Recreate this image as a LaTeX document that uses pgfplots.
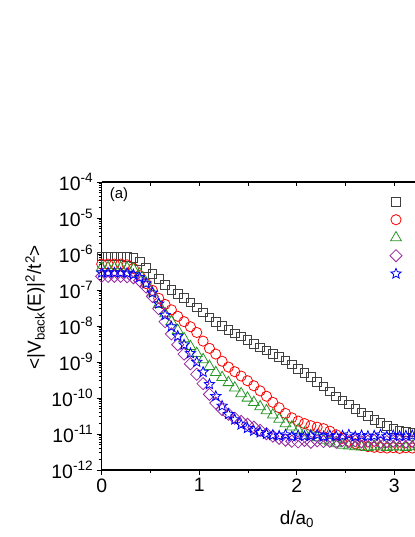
\documentclass[border=0pt]{standalone}
\usepackage{fontspec}
\setmainfont{Liberation Sans}
\usepackage{pgfplots}
\usepackage{pgfplotstable}
\pgfplotsset{compat=1.18}
\usetikzlibrary{plotmarks}

% open five-pointed star
\pgfdeclareplotmark{ostar}{%
  \pgfpathmoveto{\pgfpointpolar{90}{\pgfplotmarksize}}%
  \pgfpathlineto{\pgfpointpolar{126}{0.45\pgfplotmarksize}}%
  \pgfpathlineto{\pgfpointpolar{162}{\pgfplotmarksize}}%
  \pgfpathlineto{\pgfpointpolar{198}{0.45\pgfplotmarksize}}%
  \pgfpathlineto{\pgfpointpolar{234}{\pgfplotmarksize}}%
  \pgfpathlineto{\pgfpointpolar{270}{0.45\pgfplotmarksize}}%
  \pgfpathlineto{\pgfpointpolar{306}{\pgfplotmarksize}}%
  \pgfpathlineto{\pgfpointpolar{342}{0.45\pgfplotmarksize}}%
  \pgfpathlineto{\pgfpointpolar{18}{\pgfplotmarksize}}%
  \pgfpathlineto{\pgfpointpolar{54}{0.45\pgfplotmarksize}}%
  \pgfpathclose
  \pgfusepathqstroke}

\definecolor{cgreen}{RGB}{40,150,40}
\definecolor{cpurple}{RGB}{150,40,160}

\pgfplotstableread{
d      sq       ci       tr       di       st
0      8.51e-7  5.25e-7  4.17e-7  2.40e-7  3.02e-7
0.065  8.51e-7  5.25e-7  4.17e-7  2.40e-7  3.02e-7
0.13   8.51e-7  5.25e-7  4.17e-7  2.40e-7  3.02e-7
0.195  8.51e-7  5.25e-7  4.17e-7  2.40e-7  3.02e-7
0.26   8.32e-7  5.01e-7  4.07e-7  2.34e-7  2.95e-7
0.325  7.94e-7  3.98e-7  3.80e-7  2.19e-7  2.69e-7
0.39   6.31e-7  2.51e-7  2.82e-7  1.82e-7  2.24e-7
0.455  4.17e-7  1.51e-7  1.58e-7  1.20e-7  1.51e-7
0.52   2.82e-7  9.77e-8  8.32e-8  6.61e-8  8.32e-8
0.585  2.0e-7   5.89e-8  3.98e-8  3.02e-8  4.17e-8
0.65   1.38e-7  3.98e-8  2.19e-8  1.32e-8  2.0e-8
0.715  1.02e-7  2.82e-8  1.32e-8  6.03e-9  9.55e-9
0.78   7.94e-8  1.86e-8  7.59e-9  3.02e-9  5.25e-9
0.845  6.03e-8  1.32e-8  4.47e-9  1.66e-9  3.02e-9
0.91   4.47e-8  9.55e-9  2.69e-9  8.91e-10 1.74e-9
0.975  3.31e-8  6.61e-9  1.74e-9  4.57e-10 1.0e-9
1.04   2.40e-8  3.80e-9  1.17e-9  2.51e-10 5.25e-10
1.105  1.74e-8  2.40e-9  7.59e-10 1.26e-10 2.40e-10
1.17   1.32e-8  1.66e-9  5.13e-10 7.24e-11 1.12e-10
1.235  1.02e-8  1.05e-9  3.72e-10 4.79e-11 6.03e-11
1.30   7.94e-9  7.24e-10 2.69e-10 3.55e-11 3.55e-11
1.365  6.31e-9  5.37e-10 1.91e-10 2.75e-11 2.51e-11
1.43   5.13e-9  4.07e-10 1.32e-10 2.24e-11 1.82e-11
1.495  4.07e-9  3.02e-10 1.0e-10  1.86e-11 1.45e-11
1.56   3.24e-9  2.19e-10 7.59e-11 1.55e-11 1.23e-11
1.625  2.57e-9  1.58e-10 5.75e-11 1.26e-11 1.10e-11
1.69   2.09e-9  1.12e-10 4.47e-11 1.02e-11 1.0e-11
1.755  1.70e-9  7.59e-11 3.39e-11 8.71e-12 9.33e-12
1.82   1.38e-9  5.37e-11 2.57e-11 7.59e-12 8.91e-12
1.885  1.10e-9  3.72e-11 1.95e-11 6.76e-12 9.55e-12
1.95   8.51e-10 2.82e-11 1.58e-11 6.31e-12 8.51e-12
2.015  6.46e-10 2.29e-11 1.29e-11 6.03e-12 9.12e-12
2.08   5.01e-10 1.95e-11 1.07e-11 6.61e-12 8.71e-12
2.145  3.80e-10 1.70e-11 9.12e-12 5.89e-12 8.91e-12
2.21   2.82e-10 1.55e-11 7.94e-12 6.46e-12 9.55e-12
2.275  2.09e-10 1.41e-11 6.76e-12 6.17e-12 8.51e-12
2.34   1.51e-10 1.20e-11 6.03e-12 6.31e-12 9.12e-12
2.405  1.12e-10 9.55e-12 5.37e-12 5.89e-12 8.71e-12
2.47   8.51e-11 7.59e-12 4.90e-12 6.61e-12 8.91e-12
2.535  6.61e-11 6.31e-12 4.68e-12 6.17e-12 9.55e-12
2.60   5.01e-11 5.37e-12 4.47e-12 6.46e-12 8.51e-12
2.665  3.98e-11 4.79e-12 4.37e-12 6.03e-12 9.12e-12
2.73   3.16e-11 4.47e-12 4.27e-12 6.31e-12 8.71e-12
2.795  2.51e-11 4.27e-12 4.57e-12 6.61e-12 8.91e-12
2.86   2.04e-11 4.17e-12 4.37e-12 5.89e-12 9.55e-12
2.925  1.70e-11 4.07e-12 4.27e-12 6.17e-12 8.51e-12
2.99   1.41e-11 4.17e-12 4.47e-12 6.31e-12 9.12e-12
3.055  1.26e-11 3.98e-12 4.37e-12 6.46e-12 8.71e-12
3.12   1.15e-11 4.17e-12 4.27e-12 6.03e-12 8.91e-12
3.185  1.10e-11 4.07e-12 4.57e-12 6.31e-12 9.12e-12
3.25   1.07e-11 4.27e-12 4.37e-12 6.17e-12 8.71e-12
}\data

\begin{document}
\begin{tikzpicture}
% the reference is cut at the right edge
\path[use as bounding box] (-101.7bp,-67bp) rectangle (313.3bp,470bp);
\clip (-101.7bp,-67bp) rectangle (313.3bp,470bp);
\begin{axis}[
    scale only axis,
    width=341.25bp, height=288bp,
    xmin=0, xmax=3.5,
    ymode=log, ymin=1e-12, ymax=1e-4,
    axis x line*=bottom, axis y line*=left,
    tick align=outside,
    xtick={0,1,2,3}, minor x tick num=1,
    ytick={1e-12,1e-11,1e-10,1e-9,1e-8,1e-7,1e-6,1e-5,1e-4},
    major tick length=5bp, minor tick length=3bp,
    axis line style={line width=1.1bp},
    every tick/.style={line width=0.9bp, black},
    /pgf/number format/assume math mode=true,
    log number format basis/.code 2 args={#1\textsuperscript{\pgfmathprintnumber{#2}}},
    tick label style={font=\fontsize{19.5}{22}\selectfont},
    label style={font=\fontsize{19}{22}\selectfont},
    xlabel={d/a\textsubscript{0}},
    ylabel={<|V\textsubscript{back}(E)|\textsuperscript{2}/t\textsuperscript{2}>},
    xlabel style={at={(axis description cs:0.572,-0.17)}, anchor=center},
    ylabel style={at={(axis description cs:-0.195,0.565)}, anchor=center},
    every axis plot/.append style={only marks, line width=0.8bp},
    legend image code/.code={\path[draw=none, fill=none] (-7bp,-9bp) rectangle (7bp,9bp);
        \draw[#1, only marks] plot coordinates {(0bp,0bp)};},
    legend style={at={(0.8419,0.9628)}, anchor=north west, draw=none, fill=none,
        inner sep=0pt, outer sep=0pt, row sep=0pt,
        nodes={inner sep=0pt, outer sep=0pt}},
]
\addplot[black!75, mark=square, mark size=4.3bp] table[x=d, y=sq] {\data};
\addplot[red, mark=o, mark size=5.1bp] table[x=d, y=ci] {\data};
\addplot[cgreen, mark=triangle, mark size=6.2bp] table[x=d, y=tr] {\data};
\addplot[cpurple, mark=square, mark size=4.3bp, mark options={rotate=45}] table[x=d, y=di] {\data};
\addplot[blue, mark=ostar, mark size=5.4bp] table[x=d, y=st] {\data};
\legend{\mbox{},\mbox{},\mbox{},\mbox{},\mbox{}}
\node[font=\fontsize{15}{17}\selectfont] at (rel axis cs:0.0507,0.955) {(a)};
\end{axis}
% top axis line with inward ticks
\begin{axis}[
    scale only axis,
    width=341.25bp, height=288bp,
    xmin=0, xmax=3.5,
    ymode=log, ymin=1e-12, ymax=1e-4,
    axis x line*=top, hide y axis,
    xtick={0,0.5,...,3.5}, xticklabels={},
    tick align=inside, major tick length=4bp,
    axis line style={line width=1.1bp},
    every tick/.style={line width=0.9bp, black},
]
\end{axis}
\end{tikzpicture}
\end{document}
